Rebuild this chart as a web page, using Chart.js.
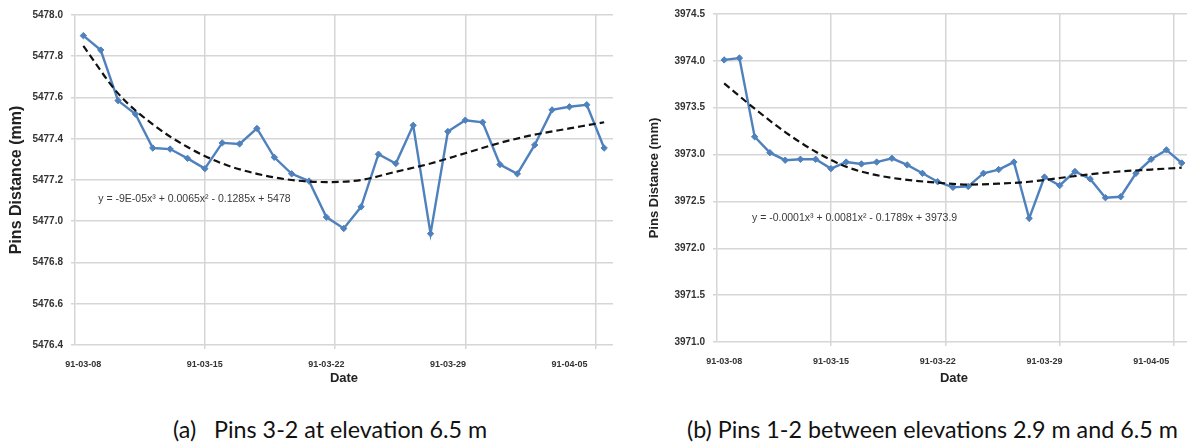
<!DOCTYPE html>
<html>
<head>
<meta charset="utf-8">
<script src="https://cdn.jsdelivr.net/npm/chart.js@4.4.1/dist/chart.umd.min.js"></script>
<style>
  html, body { margin: 0; padding: 0; background: #fff; }
  body { width: 1187px; height: 445px; overflow: hidden; position: relative; }
  #wrapA { position: absolute; left: 0; top: 0; width: 620px; height: 400px; }
  #wrapB { position: absolute; left: 640px; top: 0; width: 556px; height: 400px; }
  .caption { position: absolute; top: 416px; font-family: Lato, sans-serif; font-size: 23.3px; line-height: 1.2; color: #111; white-space: pre; }
</style>
</head>
<body>
<div id="wrapA"><canvas id="chartA" width="620" height="400"></canvas></div>
<div id="wrapB"><canvas id="chartB" width="556" height="400"></canvas></div>
<div class="caption" style="left:173px">(a)   Pins 3-2 at elevation 6.5 m</div>
<div class="caption" style="left:687px">(b) Pins 1-2 between elevations 2.9 m and 6.5 m</div>
<script>
// day of each reading, counted from 91-03-08
const days = [0, 1, 2, 3, 4, 5, 6, 7, 8, 9, 10, 11, 12, 13, 14, 15, 16, 17, 18, 19, 20, 21, 22, 23, 24, 25, 26, 27, 28, 29, 30];

// (a) pins 3-2, mm
const pins32 = [5477.90, 5477.83, 5477.585, 5477.52, 5477.355, 5477.35, 5477.305, 5477.255, 5477.38, 5477.375,
  5477.45, 5477.31, 5477.23, 5477.195, 5477.02, 5476.965, 5477.07, 5477.325, 5477.28, 5477.465,
  5476.94, 5477.435, 5477.49, 5477.48, 5477.275, 5477.23, 5477.37, 5477.54, 5477.555, 5477.565, 5477.355];

// (b) pins 1-2, mm
const pins12 = [3974.01, 3974.03, 3973.19, 3973.02, 3972.94, 3972.95, 3972.95, 3972.85, 3972.92, 3972.90,
  3972.92, 3972.96, 3972.89, 3972.80, 3972.71, 3972.65, 3972.66, 3972.80, 3972.84, 3972.92,
  3972.32, 3972.76, 3972.67, 3972.82, 3972.74, 3972.54, 3972.55, 3972.80, 3972.95, 3973.05, 3972.91];

// polynomial trend lines
const trendDays = [0, 2, 4, 6, 8, 10, 12, 14, 16, 18, 20, 22, 24, 26, 28, 30];
const trend32 = [5477.85, 5477.62, 5477.47, 5477.36, 5477.28, 5477.23, 5477.20, 5477.19,
  5477.20, 5477.24, 5477.28, 5477.33, 5477.38, 5477.42, 5477.45, 5477.48];
const trend12 = [3973.76, 3973.49, 3973.24, 3973.03, 3972.87, 3972.78, 3972.73, 3972.70,
  3972.68, 3972.69, 3972.71, 3972.75, 3972.79, 3972.82, 3972.84, 3972.86];

// axis labels
const dateLabels = ["91-03-08", "91-03-15", "91-03-22", "91-03-29", "91-04-05"];
const labelDays = [0, 7, 14, 21, 28];
const gridDays = [7, 14.5, 22, 29.5];
const yTicks32 = [5476.4, 5476.6, 5476.8, 5477.0, 5477.2, 5477.4, 5477.6, 5477.8, 5478.0];
const yTicks12 = [3971.0, 3971.5, 3972.0, 3972.5, 3973.0, 3973.5, 3974.0, 3974.5];

const eq32 = "y = -9E-05x\u00b3 + 0.0065x\u00b2 - 0.1285x + 5478";
const eq12 = "y = -0.0001x\u00b3 + 0.0081x\u00b2 - 0.1789x + 3973.9";

const gridColor = "#d6d6d6";
const blue = "#4f81bd";

// draw the trend equation at a data position
const eqPlugin = {
  id: "eqLabel",
  afterDatasetsDraw(chart, args, opts) {
    const ctx = chart.ctx;
    const x = chart.scales.x.getPixelForValue(opts.x);
    const y = chart.scales.y.getPixelForValue(opts.y);
    ctx.save();
    ctx.font = "10.5px 'Liberation Sans', Arial, sans-serif";
    ctx.fillStyle = "#3a3a3a";
    ctx.textAlign = "center";
    ctx.textBaseline = "middle";
    ctx.fillText(opts.text, x, y);
    ctx.restore();
  },
};

function makeChart(canvas, s) {
  const points = days.map((d, i) => ({ x: d, y: s.values[i] }));
  const trend = trendDays.map((d, i) => ({ x: d, y: s.trend[i] }));
  return new Chart(canvas, {
    type: "line",
    data: {
      datasets: [
        {
          data: trend,
          borderColor: "#111",
          borderWidth: 2.2,
          borderDash: [7, 4],
          pointRadius: 0,
          cubicInterpolationMode: "monotone",
          order: 0,
        },
        {
          data: points,
          borderColor: blue,
          backgroundColor: blue,
          borderWidth: 2.4,
          pointStyle: "rectRot",
          pointRadius: 3.2,
          pointBorderWidth: 1,
          tension: 0,
          order: 1,
        },
      ],
    },
    options: {
      responsive: false,
      animation: false,
      layout: { padding: s.padding },
      plugins: {
        legend: { display: false },
        tooltip: { enabled: false },
        eqLabel: s.eq,
      },
      scales: {
        xg: {
          type: "linear",
          position: "bottom",
          weight: 0,
          min: s.xMin,
          max: s.xMax,
          afterBuildTicks: (axis) => {
            axis.ticks = gridDays.map((v) => ({ value: v }));
          },
          afterFit: (axis) => {
            axis.height = 0;
          },
          ticks: { display: false },
          grid: { color: gridColor, lineWidth: 1.5, tickLength: 4 },
          border: { display: false },
        },
        x: {
          type: "linear",
          position: "bottom",
          weight: 1,
          min: s.xMin,
          max: s.xMax,
          afterBuildTicks: (axis) => {
            axis.ticks = labelDays.map((v) => ({ value: v }));
          },
          afterFit: (axis) => {
            axis.height = s.xHeight;
          },
          ticks: {
            autoSkip: false,
            maxRotation: 0,
            padding: 6,
            color: "#333",
            font: { family: "'Liberation Sans', Arial", size: 9, weight: "bold" },
            callback: (v, i) => dateLabels[i],
          },
          grid: { display: false },
          border: { display: false },
          title: {
            display: true,
            text: "Date",
            color: "#222",
            padding: { top: 0, bottom: 14 },
            font: { family: "'Liberation Sans', Arial", size: 13, weight: "bold" },
          },
        },
        y: {
          type: "linear",
          min: s.yTicks[0],
          max: s.yTicks[s.yTicks.length - 1],
          afterBuildTicks: (axis) => {
            axis.ticks = s.yTicks.map((v) => ({ value: v }));
          },
          afterFit: (axis) => {
            axis.width = s.yWidth;
          },
          ticks: {
            padding: 8,
            color: "#333",
            font: { family: "'Liberation Sans', Arial", size: 10, weight: "bold" },
            callback: (v) => v.toFixed(1),
          },
          grid: { color: gridColor, lineWidth: 1.5, tickLength: 4 },
          border: { display: true, color: gridColor, width: 1.5 },
          title: {
            display: true,
            text: "Pins Distance (mm)",
            color: "#222",
            padding: { top: s.titlePad, bottom: 0 },
            font: { family: "'Liberation Sans', Arial", size: s.titleSize, weight: "bold" },
          },
        },
      },
    },
    plugins: [eqPlugin],
  });
}

makeChart(document.getElementById("chartA"), {
  values: pins32,
  trend: trend32,
  yTicks: yTicks32,
  xMin: -0.48,
  xMax: 30.51,
  xHeight: 55,
  yWidth: 70,
  titleSize: 16,
  titlePad: 2,
  padding: { left: 5, right: 7, top: 15, bottom: 0 },
  eq: { text: eq32, x: 6.4, y: 5477.105 },
});

makeChart(document.getElementById("chartB"), {
  values: pins12,
  trend: trend12,
  yTicks: yTicks12,
  xMin: -0.47,
  xMax: 30.61,
  xHeight: 58,
  yWidth: 74,
  titleSize: 13,
  titlePad: 4,
  padding: { left: 3, right: 0, top: 14, bottom: 0 },
  eq: { text: eq12, x: 8.55, y: 3972.32 },
});
</script>
</body>
</html>
